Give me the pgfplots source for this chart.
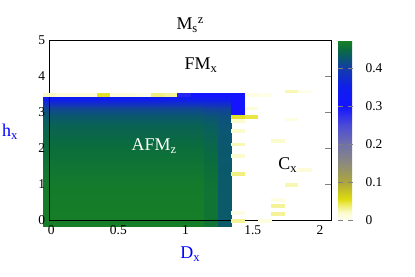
\documentclass[border=0pt]{standalone}
\usepackage{fontspec}
\setmainfont{Liberation Serif}
\usepackage{pgfplots}
\pgfplotsset{compat=1.18}
\pgfdeclareplotmark{cell}{\pgfpathrectangle{\pgfpoint{-6.8bp}{-1.85bp}}{\pgfpoint{13.6bp}{3.7bp}}\pgfusepathqfill}
\newcommand{\bigfont}{\fontsize{18}{20}\selectfont}
\begin{document}
\begin{tikzpicture}
\begin{axis}[
  name=ax,
  scale only axis, width=281.5bp, height=180bp,
  xmin=-0.0125, xmax=2.0825, ymin=0, ymax=5,
  clip=false, axis on top,
  xtick={0,0.5,1,1.5,2}, ytick={0,1,2,3,4,5},
  xtick style={draw=none},
  ytick pos=right, yticklabel pos=left,
  tick align=inside, major tick length=6bp,
  /pgf/number format/assume math mode=true,
  tick label style={font=\fontsize{13.5}{14}\selectfont},
  xticklabel shift=2bp,
  yticklabel shift=1bp,
  axis line style={black, line width=0.8pt},
  colormap={ms}{rgb255(0pt)=(255,255,242); rgb255(20pt)=(251,251,205); rgb255(40pt)=(238,236,100); rgb255(55pt)=(222,220,15); rgb255(100pt)=(172,166,60); rgb255(150pt)=(140,138,125); rgb255(200pt)=(112,112,170); rgb255(250pt)=(75,75,215); rgb255(300pt)=(20,20,255); rgb255(350pt)=(15,30,235); rgb255(400pt)=(20,60,170); rgb255(430pt)=(10,90,105); rgb255(450pt)=(10,108,62); rgb255(474pt)=(25,130,35)},
  point meta min=0, point meta max=0.474,
  colorbar,
  colorbar style={
    at={(1.025,1)}, anchor=north west,
    width=15bp,
    ytick={0,0.1,0.2,0.3,0.4},
    ytick pos=both, yticklabel pos=right,
    tick align=inside, major tick length=5bp,
    axis line style={draw=none},
    tick label style={font=\fontsize{13.5}{14}\selectfont, /pgf/number format/assume math mode=true},
    every y tick label/.append style={xshift=9bp},
  },
  title={M\textsubscript{s}\textsuperscript{z}},
  title style={font=\bigfont, yshift=-2bp},
  xlabel={D\textsubscript{x}},
  xlabel style={font=\bigfont, text=blue, at={(axis description cs:0.5,-0.19)}, anchor=center},
  ylabel={h\textsubscript{x}},
  ylabel style={font=\bigfont, text=blue, rotate=-90, at={(axis description cs:-0.14,0.49)}, anchor=center},
]
% AFM_z body
\addplot[surf, shader=interp, mesh/cols=6, point meta=explicit] table[meta=c] {
x y c
-0.06 -0.17 0.470
1.14 -0.17 0.470
1.14 -0.17 0.460
1.24 -0.17 0.460
1.24 -0.17 0.430
1.34 -0.17 0.430
-0.06 1 0.466
1.14 1 0.466
1.14 1 0.458
1.24 1 0.458
1.24 1 0.430
1.34 1 0.430
-0.06 2 0.452
1.14 2 0.452
1.14 2 0.446
1.24 2 0.446
1.24 2 0.428
1.34 2 0.428
-0.06 2.6 0.440
1.14 2.6 0.440
1.14 2.6 0.435
1.24 2.6 0.435
1.24 2.6 0.425
1.34 2.6 0.425
-0.06 2.9 0.428
1.14 2.9 0.428
1.14 2.9 0.424
1.24 2.9 0.424
1.24 2.9 0.420
1.34 2.9 0.420
-0.06 3.1 0.410
1.14 3.1 0.410
1.14 3.1 0.405
1.24 3.1 0.405
1.24 3.1 0.405
1.34 3.1 0.405
-0.06 3.25 0.375
1.14 3.25 0.375
1.14 3.25 0.372
1.24 3.25 0.372
1.24 3.25 0.370
1.34 3.25 0.370
-0.06 3.42 0.330
1.14 3.42 0.330
1.14 3.42 0.330
1.24 3.42 0.330
1.24 3.42 0.330
1.34 3.42 0.330
};
% individual cells
\addplot[scatter, only marks, mark=cell, point meta=explicit,
  scatter/use mapped color={draw=none, fill=mapped color}] table[meta=c] {
x y c
-0.01 3.465 0.022
0.09 3.465 0.014
0.19 3.465 0.014
0.29 3.465 0.014
0.39 3.465 0.050
0.49 3.465 0.014
0.59 3.465 0.014
0.69 3.465 0.006
0.79 3.465 0.035
0.89 3.465 0.030
0.99 3.47 0.285
1.09 3.47 0.300
1.19 3.47 0.300
1.29 3.47 0.300
1.39 3.48 0.300
1.39 3.38 0.300
1.39 3.28 0.300
1.39 3.18 0.300
1.39 3.08 0.300
1.39 2.98 0.300
1.39 2.87 0.050
1.39 2.75 0.020
1.39 2.47 0.020
1.39 2.10 0.025
1.39 1.78 0.020
1.39 1.27 0.035
1.39 0.19 0.008
1.39 -0.03 0.030
1.49 2.87 0.045
1.49 3.48 0.008
1.49 3.10 0.014
1.59 3.48 0.005
1.59 -0.03 0.010
1.69 2.19 0.020
1.69 0.38 0.030
1.69 0.17 0.030
1.69 0.56 0.008
1.79 3.57 0.025
1.79 2.79 0.010
1.79 0.98 0.025
1.89 1.38 0.014
1.89 3.57 0.005
};
\node[font=\bigfont, text=black] at (axis cs:1.115,4.3) {FM\textsubscript{x}};
\node[font=\bigfont, text=white] at (axis cs:0.766,2.06) {AFM\textsubscript{z}};
\node[font=\bigfont, text=black] at (axis cs:1.76,1.53) {C\textsubscript{x}};
\end{axis}
\pgfresetboundingbox
\path (ax.south west) ++(-49.5bp,-57bp) rectangle ++(415bp,277bp);
\end{tikzpicture}
\end{document}
